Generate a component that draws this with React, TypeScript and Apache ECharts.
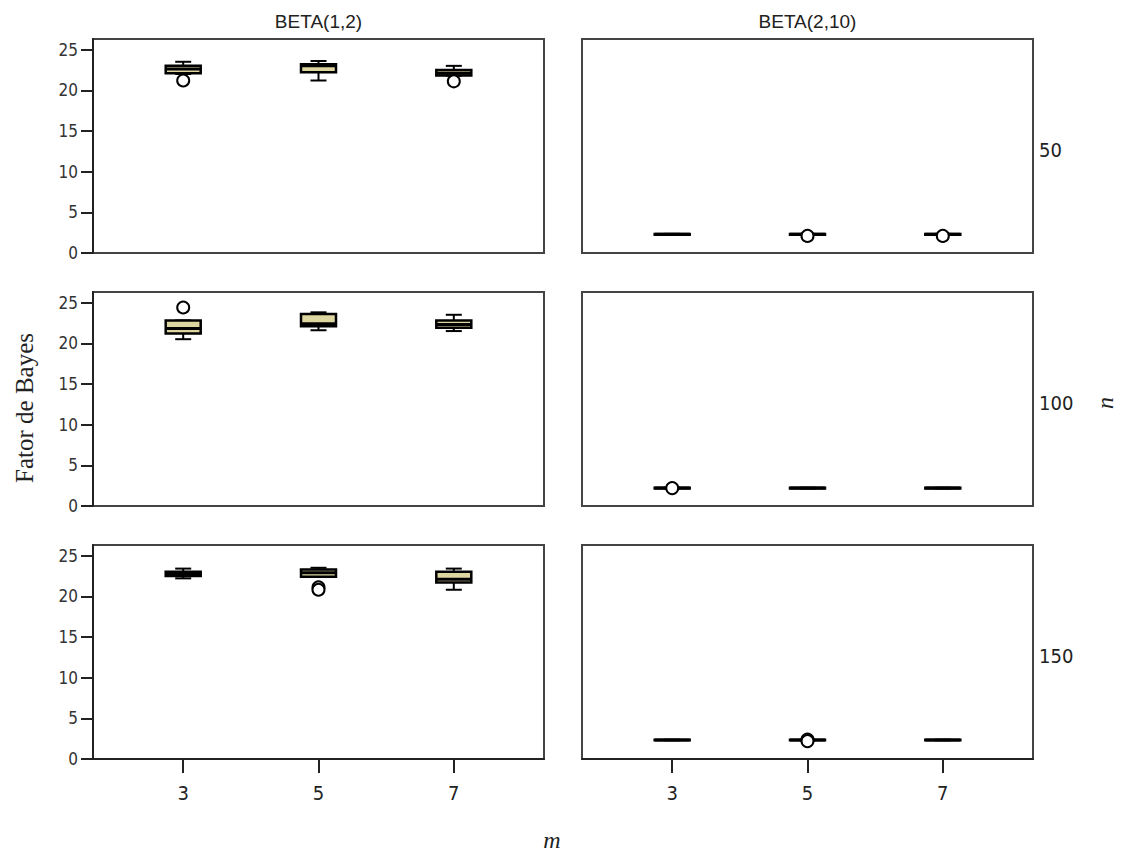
import React, { useEffect, useRef } from 'react';
import * as echarts from 'echarts';

// ---- data ----
const M_VALUES = [3, 5, 7];
const Y_TICKS = [0, 5, 10, 15, 20, 25];
const COLUMN_TITLES = ['BETA(1,2)', 'BETA(2,10)'];
const ROW_LABELS = ['50', '100', '150'];
const X_TITLE = 'm';
const Y_TITLE = 'Fator de Bayes';
const ROW_TITLE = 'u';

// [min, Q1, median, Q3, max] for m = 3, 5, 7
const BETA12_U50 = [
  [22.0, 22.1, 22.6, 23.0, 23.5],
  [21.2, 22.2, 23.0, 23.2, 23.6],
  [21.8, 21.8, 22.1, 22.5, 23.0],
];
const BETA12_U50_OUT = [[3, 21.2], [7, 21.1]];

const BETA12_U100 = [
  [20.5, 21.2, 21.8, 22.8, 22.8],
  [21.6, 22.1, 22.4, 23.6, 23.8],
  [21.5, 21.9, 22.3, 22.8, 23.5],
];
const BETA12_U100_OUT = [[3, 24.4]];

const BETA12_U150 = [
  [22.2, 22.5, 22.7, 23.0, 23.4],
  [22.4, 22.4, 22.9, 23.3, 23.5],
  [20.8, 21.7, 22.1, 23.0, 23.4],
];
const BETA12_U150_OUT = [[5, 21.1], [5, 20.8]];

const BETA210_U50 = [
  [2.25, 2.25, 2.3, 2.35, 2.35],
  [2.25, 2.25, 2.3, 2.35, 2.35],
  [2.25, 2.25, 2.3, 2.35, 2.35],
];
const BETA210_U50_OUT = [[5, 2.1], [7, 2.1]];

const BETA210_U100 = [
  [2.15, 2.15, 2.2, 2.25, 2.25],
  [2.15, 2.15, 2.2, 2.25, 2.25],
  [2.15, 2.15, 2.2, 2.25, 2.25],
];
const BETA210_U100_OUT = [[3, 2.2]];

const BETA210_U150 = [
  [2.3, 2.3, 2.33, 2.38, 2.38],
  [2.3, 2.3, 2.33, 2.38, 2.38],
  [2.3, 2.3, 2.33, 2.38, 2.38],
];
const BETA210_U150_OUT = [[5, 2.4], [5, 2.2]];

// panels in order row-major: [left, right] per row
const PANELS = [
  [BETA12_U50, BETA12_U50_OUT],
  [BETA210_U50, BETA210_U50_OUT],
  [BETA12_U100, BETA12_U100_OUT],
  [BETA210_U100, BETA210_U100_OUT],
  [BETA12_U150, BETA12_U150_OUT],
  [BETA210_U150, BETA210_U150_OUT],
];

// ---- layout / style ----
const GRID_LEFTS = [93, 582];
const GRID_TOPS = [39, 292, 545];
const GRID_W = 451;
const GRID_H = 214;
const X_MIN = 5 - 10 / 3;
const X_MAX = 5 + 10 / 3;
const Y_MAX = 26.3;
const BEIGE = '#ddd6a0';
const BOX_HALF = 17.5;
const CAP_HALF = 8;

const renderBox = (params: any, api: any) => {
  const x = api.value(0);
  const vMin = api.value(1);
  const vQ1 = api.value(2);
  const vMed = api.value(3);
  const vQ3 = api.value(4);
  const vMax = api.value(5);
  const cx = api.coord([x, vMin])[0];
  const yMin = api.coord([x, vMin])[1];
  const yQ1 = api.coord([x, vQ1])[1];
  const yMed = api.coord([x, vMed])[1];
  const yQ3 = api.coord([x, vQ3])[1];
  const yMax = api.coord([x, vMax])[1];
  const ls = { stroke: '#000', lineWidth: 2, fill: null };
  return {
    type: 'group',
    children: [
      { type: 'line', shape: { x1: cx, y1: yMax, x2: cx, y2: yQ3 }, style: ls },
      { type: 'line', shape: { x1: cx, y1: yQ1, x2: cx, y2: yMin }, style: ls },
      { type: 'line', shape: { x1: cx - CAP_HALF, y1: yMax, x2: cx + CAP_HALF, y2: yMax }, style: ls },
      { type: 'line', shape: { x1: cx - CAP_HALF, y1: yMin, x2: cx + CAP_HALF, y2: yMin }, style: ls },
      {
        type: 'rect',
        shape: { x: cx - BOX_HALF, y: yQ3, width: BOX_HALF * 2, height: Math.max(yQ1 - yQ3, 0.5) },
        style: { fill: BEIGE, stroke: '#000', lineWidth: 2.5 },
      },
      { type: 'line', shape: { x1: cx - BOX_HALF, y1: yMed, x2: cx + BOX_HALF, y2: yMed }, style: { stroke: '#000', lineWidth: 3 } },
    ],
  };
};

export default function App() {
  const ref = useRef<HTMLDivElement>(null);
  useEffect(() => {
    if (!ref.current) return;
    const chart = echarts.init(ref.current, null, { renderer: 'svg' });
    const grids: any[] = [];
    const xAxes: any[] = [];
    const yAxes: any[] = [];
    const series: any[] = [];
    PANELS.forEach((panel, i) => {
      const row = Math.floor(i / 2);
      const col = i % 2;
      const [boxes, outs] = panel as [number[][], number[][]];
      grids.push({
        left: GRID_LEFTS[col],
        top: GRID_TOPS[row],
        width: GRID_W,
        height: GRID_H,
        show: true,
        borderColor: '#444',
        borderWidth: 2,
        backgroundColor: 'transparent',
        outerBoundsMode: 'none',
      });
      const isBottom = row === 2;
      const isLeft = col === 0;
      xAxes.push({
        type: 'value',
        gridIndex: i,
        min: X_MIN,
        max: X_MAX,
        splitLine: { show: false },
        axisLine: { show: isBottom, onZero: false, lineStyle: { color: '#222', width: 2 } },
        axisTick: {
          show: isBottom,
          customValues: M_VALUES,
          length: 14,
          lineStyle: { color: '#222', width: 2 },
        },
        axisLabel: {
          show: isBottom,
          customValues: M_VALUES,
          fontSize: 20,
          margin: 24,
          color: '#222',
          fontFamily: 'DejaVu Sans Condensed',
        },
      });
      yAxes.push({
        type: 'value',
        gridIndex: i,
        min: 0,
        max: Y_MAX,
        splitLine: { show: false },
        axisLine: { show: isLeft, onZero: false, lineStyle: { color: '#222', width: 2 } },
        axisTick: {
          show: isLeft,
          customValues: Y_TICKS,
          length: 12,
          lineStyle: { color: '#222', width: 2 },
        },
        axisLabel: {
          show: isLeft,
          customValues: Y_TICKS,
          fontSize: 17,
          margin: 15,
          color: '#333',
          fontFamily: 'DejaVu Sans Condensed',
        },
      });
      series.push({
        type: 'custom',
        xAxisIndex: i,
        yAxisIndex: i,
        renderItem: renderBox,
        encode: { x: 0, y: [1, 2, 3, 4, 5] },
        data: boxes.map((b, k) => [M_VALUES[k], ...b]),
        z: 2,
      });
      series.push({
        type: 'scatter',
        xAxisIndex: i,
        yAxisIndex: i,
        symbol: 'circle',
        symbolSize: 12,
        itemStyle: { color: '#fff', borderColor: '#000', borderWidth: 2, opacity: 1 },
        data: outs,
        z: 3,
      });
    });

    const graphic: any[] = [];
    COLUMN_TITLES.forEach((t, c) => {
      graphic.push({
        type: 'text',
        x: GRID_LEFTS[c] + GRID_W / 2,
        y: 21,
        style: { text: t, fontSize: 19, fontFamily: 'Liberation Sans', fill: '#222', align: 'center', verticalAlign: 'middle' },
      });
    });
    ROW_LABELS.forEach((t, r) => {
      graphic.push({
        type: 'text',
        x: 1039,
        y: GRID_TOPS[r] + GRID_H / 2 + 4,
        style: { text: t, fontSize: 20, fontFamily: 'DejaVu Sans Condensed', fill: '#222', align: 'left', verticalAlign: 'middle' },
      });
    });
    graphic.push({
      type: 'text',
      x: 24,
      y: 408,
      rotation: Math.PI / 2,
      style: { text: Y_TITLE, fontSize: 25, fontFamily: 'Liberation Serif', fill: '#222', align: 'center', verticalAlign: 'middle' },
    });
    graphic.push({
      type: 'text',
      x: 1110,
      y: 403,
      rotation: -Math.PI / 2,
      style: { text: ROW_TITLE, fontSize: 24, fontStyle: 'italic', fontFamily: 'Liberation Serif', fill: '#222', align: 'center', verticalAlign: 'middle' },
    });
    graphic.push({
      type: 'text',
      x: 552,
      y: 840,
      style: { text: X_TITLE, fontSize: 24, fontStyle: 'italic', fontFamily: 'Liberation Serif', fill: '#222', align: 'center', verticalAlign: 'middle' },
    });

    chart.setOption({
      animation: false,
      backgroundColor: '#fff',
      grid: grids,
      xAxis: xAxes,
      yAxis: yAxes,
      series,
      graphic,
    });
    return () => chart.dispose();
  }, []);
  return (
    <div
      ref={ref}
      style={{ position: 'absolute', left: 0, top: 0, width: 1122, height: 855 }}
    />
  );
}
